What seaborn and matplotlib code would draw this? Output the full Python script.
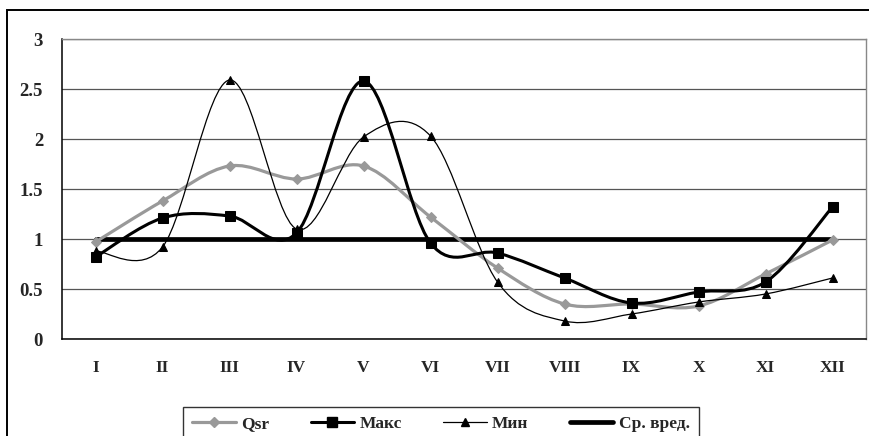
import numpy as np
import pandas as pd
import matplotlib
matplotlib.use("Agg")
import matplotlib.pyplot as plt
import seaborn as sns
from matplotlib.path import Path
from matplotlib.patches import PathPatch, Rectangle
from matplotlib.lines import Line2D

# data
months = ["I", "II", "III", "IV", "V", "VI", "VII", "VIII", "IX", "X", "XI", "XII"]
qsr = [0.97, 1.38, 1.73, 1.60, 1.73, 1.22, 0.71, 0.35, 0.35, 0.33, 0.65, 0.99]
maks = [0.82, 1.21, 1.23, 1.06, 2.58, 0.96, 0.86, 0.61, 0.36, 0.47, 0.57, 1.32]
mini = [0.88, 0.92, 2.59, 1.10, 2.02, 2.03, 0.57, 0.18, 0.25, 0.37, 0.45, 0.61]
sr_vred = [1.0] * 12
yticks = [0, 0.5, 1, 1.5, 2, 2.5, 3]
ytick_labels = ["0", "0.5", "1", "1.5", "2", "2.5", "3"]

df = pd.DataFrame({"month": months, "pos": np.arange(len(months)),
                   "Qsr": qsr, "Макс": maks, "Мин": mini, "Ср. вред.": sr_vred})

sns.set_style("white")
plt.rcParams["font.family"] = ["Liberation Serif", "DejaVu Serif"]
plt.rcParams["font.weight"] = "bold"


def smooth_path(x, y):
    # excel-style smoothed line (catmull-rom bezier, tension 1/6)
    pts = np.column_stack([x, y]).astype(float)
    verts = [pts[0]]
    codes = [Path.MOVETO]
    n = len(pts)
    for i in range(n - 1):
        p0 = pts[i - 1] if i > 0 else pts[i]
        p1 = pts[i]
        p2 = pts[i + 1]
        p3 = pts[i + 2] if i + 2 < n else pts[i + 1]
        verts += [p1 + (p2 - p0) / 6, p2 - (p3 - p1) / 6, p2]
        codes += [Path.CURVE4] * 3
    return Path(verts, codes)


fig = plt.figure(figsize=(8.69, 4.36), dpi=100)
W, H = 869, 436
ax = fig.add_axes([62 / W, 1 - 339 / H, (866 - 62) / W, (339 - 39) / H])

series = [
    ("Qsr", "#999999", 2.3, "D", 5.5),
    ("Макс", "black", 2.2, "s", 7),
    ("Мин", "black", 0.9, "^", 6),
]
handles = []
for name, col, lw, mk, ms in series:
    ax.add_patch(PathPatch(smooth_path(df["pos"], df[name]), facecolor="none",
                           edgecolor=col, lw=lw, zorder=3))
    sns.lineplot(data=df, x="pos", y=name, ax=ax, linestyle="", marker=mk,
                 markersize=ms, color=col, markeredgecolor=col, zorder=4)
    handles.append(Line2D([], [], color=col, lw=lw, marker=mk, markersize=ms,
                          markeredgecolor=col))

sns.lineplot(data=df, x="pos", y="Ср. вред.", ax=ax, color="black", lw=3.4, zorder=2)
handles.append(Line2D([], [], color="black", lw=3.4))

ax.set_xlim(-0.5, len(months) - 0.5)
ax.set_ylim(0, 3)
ax.set_yticks(yticks)
ax.set_yticklabels(ytick_labels, fontsize=13.5, fontweight="bold")
ax.set_xticks(np.arange(len(months) + 1) - 0.5)
ax.set_xticklabels([])
ax.set_xticks(np.arange(len(months)), minor=True)
ax.set_xticklabels(months, minor=True, fontsize=12.5, fontweight="bold")
ax.tick_params(axis="x", which="major", direction="out", length=4, width=1, color="black")
ax.tick_params(axis="x", which="minor", length=0, pad=15)
ax.tick_params(axis="y", direction="out", length=3.6, width=1, color="black", pad=10)
ax.set_xlabel("")
ax.set_ylabel("")
ax.grid(axis="y", color="#555555", lw=0.9)
ax.set_axisbelow(True)
for s in ["left", "bottom"]:
    ax.spines[s].set_color("black")
    ax.spines[s].set_linewidth(1.1)
for s in ["top", "right"]:
    ax.spines[s].set_color("#888888")
    ax.spines[s].set_linewidth(1.0)

# outer chart border
fig.patches.append(Rectangle((7 / W, -0.1), 1.1, 1 - 10 / H + 0.1, transform=fig.transFigure,
                             fill=False, edgecolor="black", lw=1.4))

leg = fig.legend(handles, ["Qsr", "Макс", "Мин", "Ср. вред."], ncol=4,
                 loc="upper center", bbox_to_anchor=(441 / W, 1 - 398 / H),
                 frameon=True, fancybox=False, edgecolor="black",
                 prop={"size": 12.5, "weight": "bold"}, handlelength=2.5,
                 columnspacing=2.4, handletextpad=0.3, borderpad=0.55)
leg.get_frame().set_linewidth(1.0)

fig.savefig("out.png", dpi=100)
